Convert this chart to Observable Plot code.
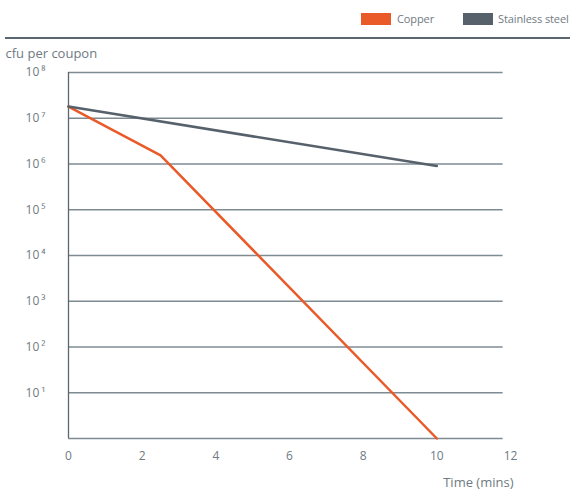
<!DOCTYPE html>
<html><head><meta charset="utf-8">
<script src="https://cdn.jsdelivr.net/npm/d3@7"></script>
<script src="https://cdn.jsdelivr.net/npm/@observablehq/plot@0.6"></script>
<style>
body{margin:0;background:#fff;font-family:"Open Sans",sans-serif;color:#6f7a82;}
#wrap{width:570px;height:490px;position:relative;overflow:hidden}
#legend{position:relative;height:37px;border-bottom:2px solid #5a6670;margin-left:5px;}
.sw{position:absolute;top:13px;width:30px;height:12px}
.lt{position:absolute;top:11px;font-size:11px;line-height:16px;letter-spacing:-0.1px}
</style></head>
<body><div id="wrap">
<div id="legend"></div>
<div id="chart"></div>
</div>
<script>
const seriesNames = ["Copper", "Stainless steel"];
const seriesColors = ["#e95a28", "#56616b"];
const copperTime = [0, 2.5, 10];
const copperCfu = [1.8e7, 1.55e6, 1];
const steelTime = [0, 10];
const steelCfu = [1.8e7, 9e5];
const xTicks = [0, 2, 4, 6, 8, 10, 12];
const yTicks = [1e1, 1e2, 1e3, 1e4, 1e5, 1e6, 1e7, 1e8];
const gridEnd = 11.8;
const yLabel = "cfu per coupon";
const xLabel = "Time (mins)";

const sup = {"1":"¹","2":"²","3":"³","4":"⁴","5":"⁵","6":"⁶","7":"⁷","8":"⁸"};
const fmt = v => "10\u2009" + sup[String(Math.round(Math.log10(v)))];

const data = [
  ...copperTime.map((t, i) => ({series: seriesNames[0], t, v: copperCfu[i]})),
  ...steelTime.map((t, i) => ({series: seriesNames[1], t, v: steelCfu[i]}))
];

// legend
const leg = document.getElementById("legend");
const legPos = [[356, 392], [458, 493]];
seriesNames.forEach((n, i) => {
  const s = document.createElement("div");
  s.className = "sw"; s.style.left = legPos[i][0] + "px"; s.style.background = seriesColors[i];
  leg.appendChild(s);
  const t = document.createElement("div");
  t.className = "lt"; t.style.left = legPos[i][1] + "px"; t.textContent = n;
  leg.appendChild(t);
});

const chart = Plot.plot({
  width: 570,
  height: 451,
  marginTop: 33,
  marginBottom: 52,
  marginLeft: 68,
  marginRight: 60,
  style: {fontFamily: "Open Sans, sans-serif", fontSize: "12px", color: "#6f7a82", background: "#fff"},
  x: {domain: [0, 12], ticks: xTicks, tickSize: 0, tickPadding: 13, label: null},
  y: {type: "log", domain: [1, 1e8], ticks: yTicks, tickFormat: fmt, tickSize: 0, tickPadding: 23, label: null},
  color: {domain: seriesNames, range: seriesColors},
  marks: [
    Plot.ruleY(yTicks, {x1: 0, x2: gridEnd, stroke: "#7f8b93", strokeWidth: 1.3}),
    Plot.ruleX([0], {stroke: "#5a6670", strokeWidth: 1.3}),
    Plot.ruleY([1], {x1: 0, x2: gridEnd, stroke: "#7f8b93", strokeWidth: 1.5}),
    Plot.line(data, {x: "t", y: "v", z: "series", stroke: "series", strokeWidth: 2.5}),
    Plot.text([yLabel], {frameAnchor: "top-left", lineAnchor: "middle", dx: -63, dy: -19, textAnchor: "start", fill: "#6f7a82", fontSize: 13}),
    Plot.text([xLabel], {frameAnchor: "bottom-right", lineAnchor: "middle", dx: 3, dy: 44, textAnchor: "end", fill: "#6f7a82", fontSize: 13})
  ]
});
document.getElementById("chart").appendChild(chart);
</script>
</body></html>
